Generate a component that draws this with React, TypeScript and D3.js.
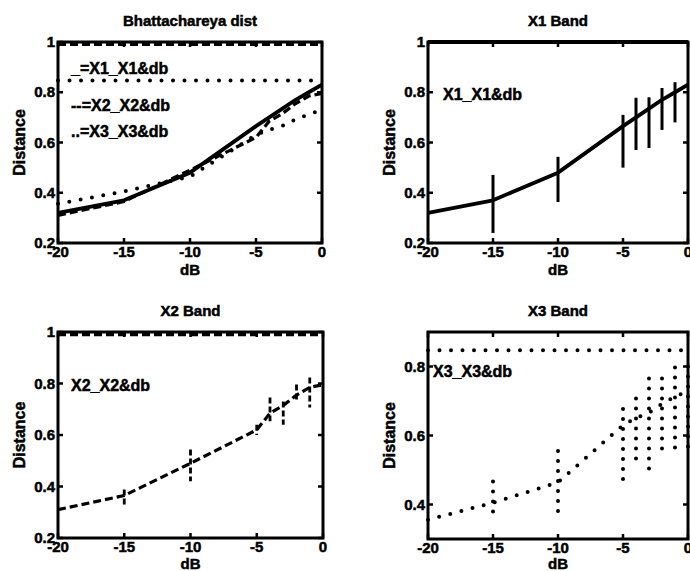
import React from "react";
import * as d3 from "d3";

// ---- data ----
const dB = [-20, -15, -10, -5, -4, -3, -2, -1, 0];
const xTicks = [-20, -15, -10, -5, 0];
const yTicksFull = [0.2, 0.4, 0.6, 0.8, 1];
const yTicksX3 = [0.4, 0.6, 0.8];

const x1Mean = [0.32, 0.37, 0.48, 0.665, 0.7, 0.735, 0.77, 0.8, 0.83];
const x1Lo = [NaN, 0.24, 0.363, 0.5, 0.57, 0.578, 0.65, 0.68, NaN];
const x1Hi = [NaN, 0.471, 0.543, 0.71, 0.778, 0.78, 0.817, 0.84, NaN];

const x2Mean = [0.31, 0.365, 0.49, 0.62, 0.685, 0.715, 0.755, 0.785, 0.795];
const x2Lo = [NaN, 0.322, 0.42, 0.6, 0.653, 0.64, 0.738, 0.707, NaN];
const x2Hi = [NaN, 0.388, 0.544, 0.64, 0.746, 0.73, 0.796, 0.823, NaN];

const x3Mean = [0.356, 0.405, 0.464, 0.63, 0.651, 0.666, 0.692, 0.712, 0.73];
const x3Lo = [NaN, 0.377, 0.377, 0.464, 0.526, 0.497, 0.555, 0.555, 0.555];
const x3Hi = [NaN, 0.467, 0.555, 0.677, 0.707, 0.765, 0.765, 0.797, 0.8];

const refX1 = 1.0;
const refX2 = 0.99;
const refX3 = 0.847;

const titles = ["Bhattachareya dist", "X1 Band", "X2 Band", "X3 Band"];
const legendAll = ["_=X1_X1&db", "--=X2_X2&db", "..=X3_X3&db"];
const legendX1 = "X1_X1&db";
const legendX2 = "X2_X2&db";
const legendX3 = "X3_X3&db";

// ---- styles ----
const FONT = "'Liberation Sans', Arial, Helvetica, sans-serif";
const TXT = { fontFamily: FONT, fontWeight: "bold" as const, stroke: "#000", strokeWidth: 0.5 };
const STYLES: Record<string, { w: number; dash?: string; cap?: string }> = {
  solid: { w: 3.8 },
  dashed: { w: 3.2, dash: "8,4" },
  dotted: { w: 4, dash: "0,11.5", cap: "round" },
  ebSolid: { w: 3 },
  ebDashed: { w: 2.8, dash: "6,3" },
  ebDotted: { w: 4, dash: "0,10", cap: "round" },
};

type Series = { vals: number[]; style: string };
type Bars = { lo: number[]; hi: number[]; style: string };
type Ref = { v: number; style: string };

type PanelDef = {
  x0: number;
  x1: number;
  y0: number;
  y1: number;
  yDomain: [number, number];
  yTicks: number[];
  title: string;
  series: Series[];
  bars: Bars[];
  refs: Ref[];
  legend: { text: string; x: number; y: number }[];
};

const fmtY = (v: number) => (v === 1 ? "1" : v.toFixed(1));

function Panel({ p }: { p: PanelDef }) {
  const x = d3.scaleLinear().domain([-20, 0]).range([p.x0, p.x1]);
  const y = d3.scaleLinear().domain(p.yDomain).range([p.y1, p.y0]);
  const line = d3
    .line<number>()
    .x((_, i) => x(dB[i]))
    .y((d) => y(d));
  const cx = (p.x0 + p.x1) / 2;
  const cy = (p.y0 + p.y1) / 2;
  const tk = 5;
  return (
    <g>
      {p.refs.map((r, i) => {
        const s = STYLES[r.style];
        return (
          <line
            key={"r" + i}
            x1={x(-20)}
            x2={x(0)}
            y1={y(r.v)}
            y2={y(r.v)}
            stroke="#000"
            strokeWidth={s.w}
            strokeDasharray={s.dash}
            strokeLinecap={(s.cap as any) || "butt"}
          />
        );
      })}
      {p.bars.map((b, bi) => {
        const s = STYLES[b.style];
        return dB.map((d, i) =>
          isNaN(b.lo[i]) ? null : (
            <line
              key={"b" + bi + "_" + i}
              x1={x(d)}
              x2={x(d)}
              y1={y(b.hi[i])}
              y2={y(b.lo[i])}
              stroke="#000"
              strokeWidth={s.w}
              strokeDasharray={s.dash}
              strokeLinecap={(s.cap as any) || "butt"}
            />
          )
        );
      })}
      {p.series.map((sr, i) => {
        const s = STYLES[sr.style];
        return (
          <path
            key={"s" + i}
            d={line(sr.vals) || ""}
            fill="none"
            stroke="#000"
            strokeWidth={s.w}
            strokeDasharray={s.dash}
            strokeLinecap={(s.cap as any) || "butt"}
            strokeLinejoin="round"
          />
        );
      })}
      <rect
        x={p.x0}
        y={p.y0}
        width={p.x1 - p.x0}
        height={p.y1 - p.y0}
        fill="none"
        stroke="#000"
        strokeWidth={3}
      />
      {xTicks.map((t) => (
        <g key={"xt" + t}>
          <line x1={x(t)} x2={x(t)} y1={p.y1} y2={p.y1 - tk} stroke="#000" strokeWidth={2.5} />
          <line x1={x(t)} x2={x(t)} y1={p.y0} y2={p.y0 + tk} stroke="#000" strokeWidth={2.5} />
          <text x={x(t)} y={p.y1 + 14} textAnchor="middle" fontSize={15} {...TXT}>
            {t}
          </text>
        </g>
      ))}
      {p.yTicks.map((t) => (
        <g key={"yt" + t}>
          <line x1={p.x0} x2={p.x0 + tk} y1={y(t)} y2={y(t)} stroke="#000" strokeWidth={2.5} />
          <line x1={p.x1} x2={p.x1 - tk} y1={y(t)} y2={y(t)} stroke="#000" strokeWidth={2.5} />
          <text x={p.x0 - 3} y={y(t) + 5} textAnchor="end" fontSize={15} {...TXT}>
            {fmtY(t)}
          </text>
        </g>
      ))}
      <text x={cx} y={Math.min(p.y1 + 32, 569)} textAnchor="middle" fontSize={15} {...TXT}>
        dB
      </text>
      <text
        transform={`translate(${p.x0 - 33},${cy}) rotate(-90)`}
        textAnchor="middle"
        fontSize={16}
        {...TXT}
      >
        Distance
      </text>
      <text x={cx} y={p.y0 - 16} textAnchor="middle" fontSize={15} {...TXT}>
        {p.title}
      </text>
      {p.legend.map((l, i) => (
        <text key={"l" + i} x={l.x} y={l.y} fontSize={16} {...TXT}>
          {l.text}
        </text>
      ))}
    </g>
  );
}

const panels: PanelDef[] = [
  {
    x0: 58,
    x1: 322,
    y0: 42,
    y1: 243,
    yDomain: [0.2, 1],
    yTicks: yTicksFull,
    title: titles[0],
    series: [
      { vals: x1Mean, style: "solid" },
      { vals: x2Mean, style: "dashed" },
      { vals: x3Mean, style: "dotted" },
    ],
    bars: [],
    refs: [
      { v: refX2, style: "dashed" },
      { v: refX3, style: "dotted" },
    ],
    legend: [
      { text: legendAll[0], x: 71, y: 74 },
      { text: legendAll[1], x: 71, y: 111 },
      { text: legendAll[2], x: 71, y: 137 },
    ],
  },
  {
    x0: 428,
    x1: 688,
    y0: 42,
    y1: 243,
    yDomain: [0.2, 1],
    yTicks: yTicksFull,
    title: titles[1],
    series: [{ vals: x1Mean, style: "solid" }],
    bars: [{ lo: x1Lo, hi: x1Hi, style: "ebSolid" }],
    refs: [{ v: refX1, style: "solid" }],
    legend: [{ text: legendX1, x: 443, y: 100 }],
  },
  {
    x0: 58,
    x1: 323,
    y0: 332,
    y1: 538,
    yDomain: [0.2, 1],
    yTicks: yTicksFull,
    title: titles[2],
    series: [{ vals: x2Mean, style: "dashed" }],
    bars: [{ lo: x2Lo, hi: x2Hi, style: "ebDashed" }],
    refs: [{ v: refX2, style: "dashed" }],
    legend: [{ text: legendX2, x: 71, y: 391 }],
  },
  {
    x0: 428,
    x1: 688,
    y0: 332,
    y1: 539,
    yDomain: [0.3, 0.9],
    yTicks: yTicksX3,
    title: titles[3],
    series: [{ vals: x3Mean, style: "dotted" }],
    bars: [{ lo: x3Lo, hi: x3Hi, style: "ebDotted" }],
    refs: [{ v: refX3, style: "dotted" }],
    legend: [{ text: legendX3, x: 433, y: 377 }],
  },
];

export default function App() {
  return (
    <svg
      width={690}
      height={571}
      viewBox="0 0 690 571"
      style={{ position: "absolute", left: 0, top: 0, background: "#fff" }}
    >
      <rect x={0} y={0} width={690} height={571} fill="#fff" />
      {panels.map((p, i) => (
        <Panel key={i} p={p} />
      ))}
    </svg>
  );
}
